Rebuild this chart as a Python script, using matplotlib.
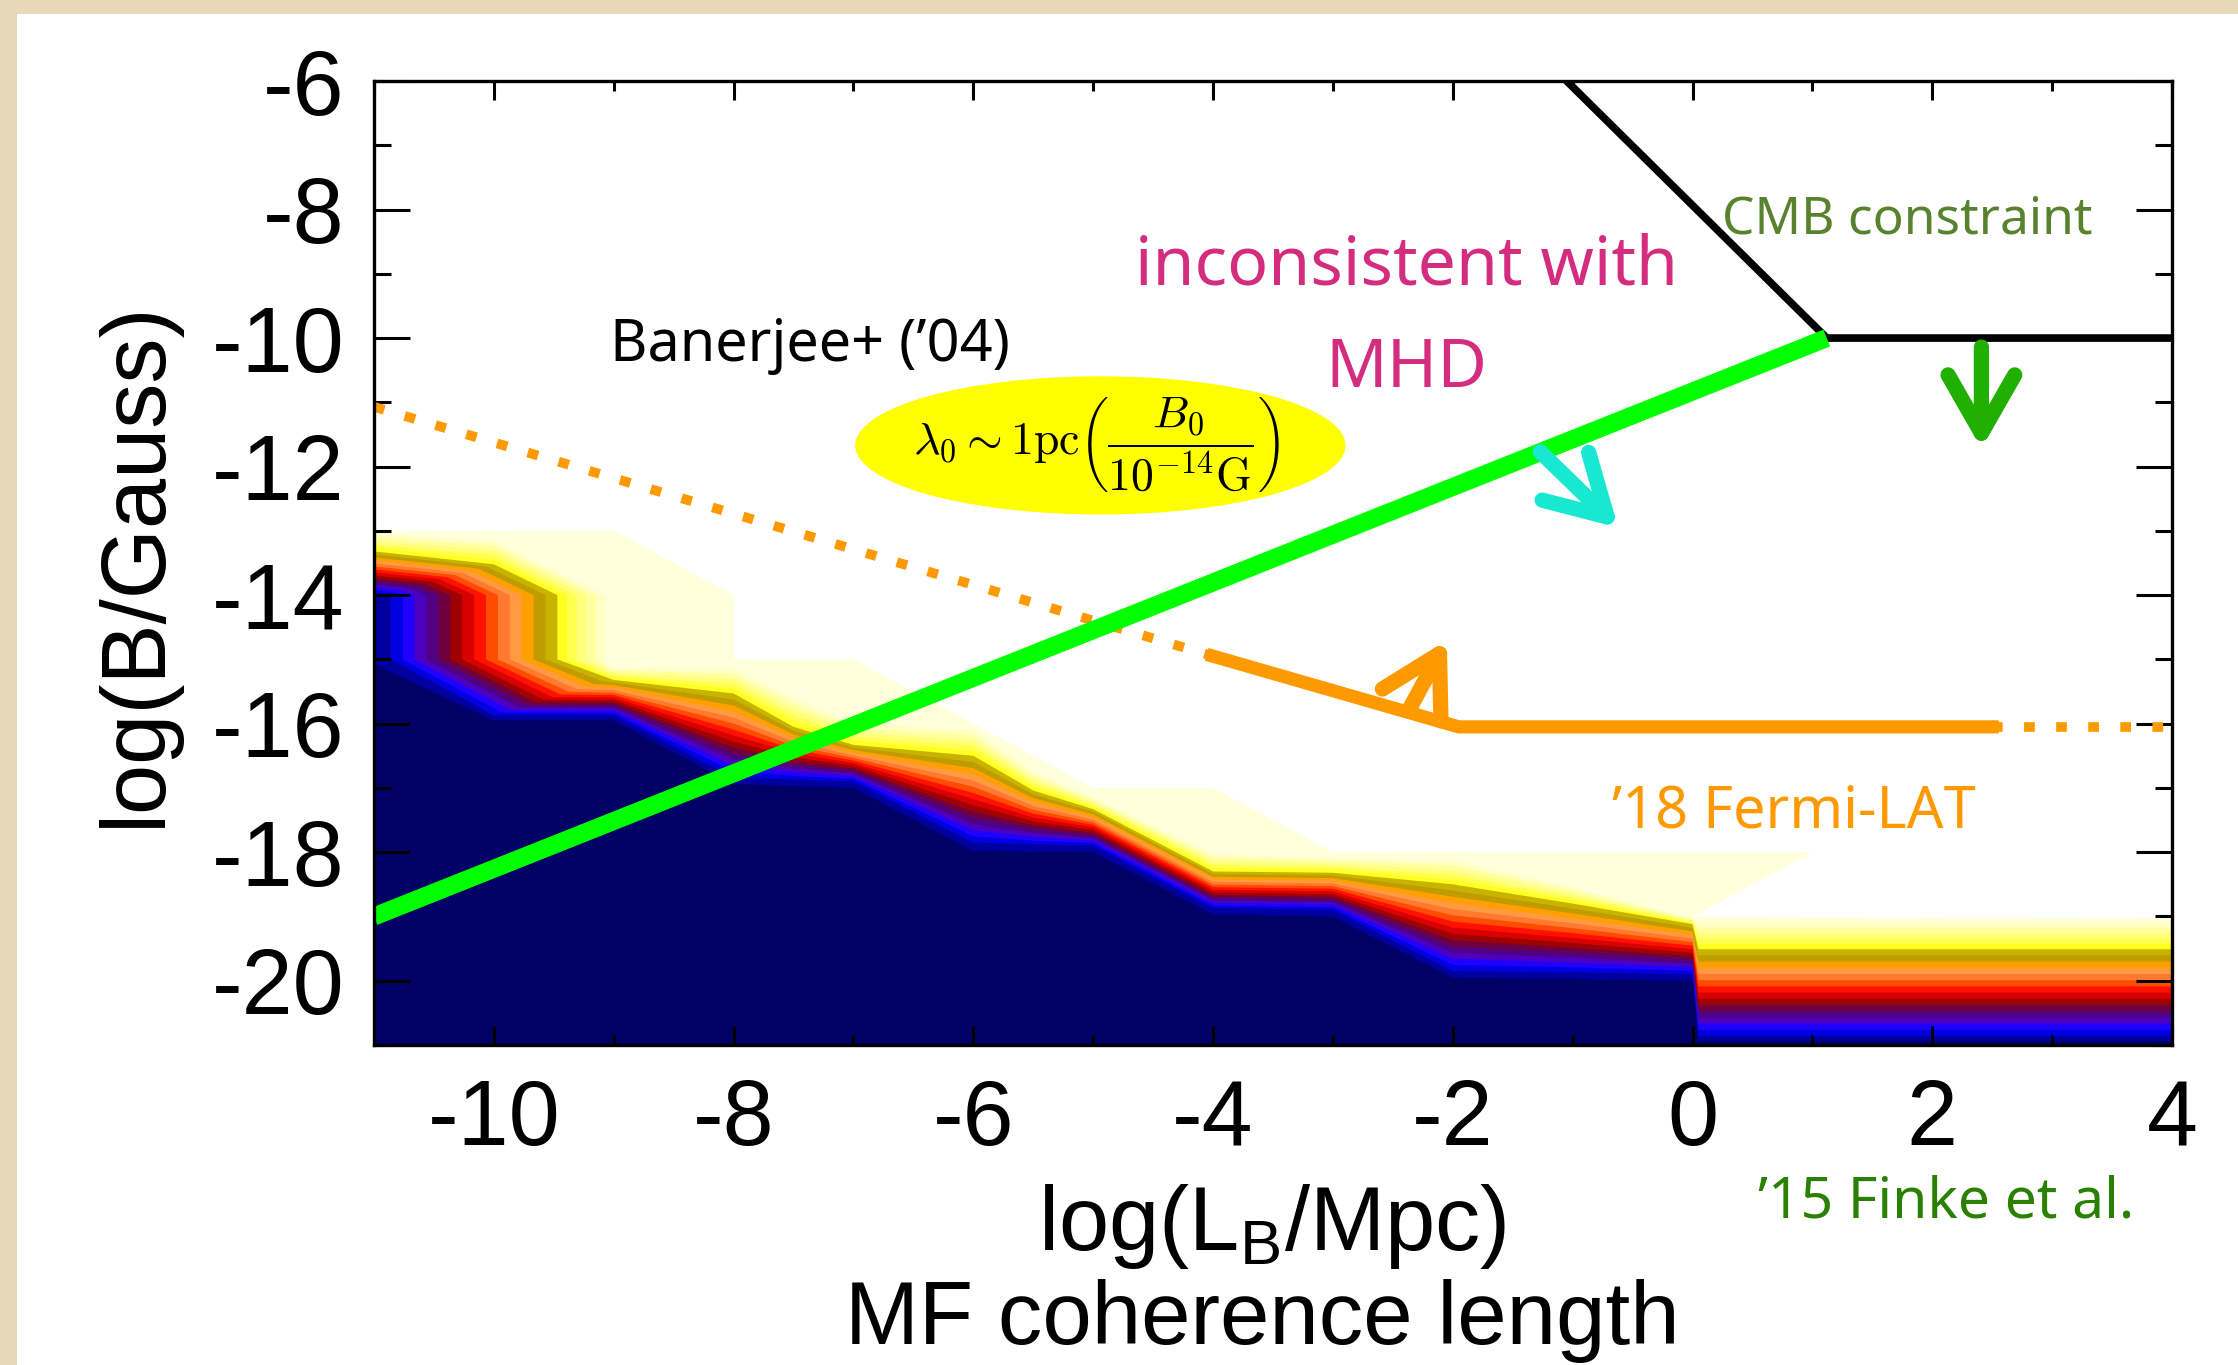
import numpy as np
import matplotlib
matplotlib.use('Agg')
import matplotlib.pyplot as plt
from matplotlib.patches import Ellipse, Rectangle, Polygon
from matplotlib.ticker import MultipleLocator

plt.rcParams['font.family'] = ['Liberation Sans', 'DejaVu Sans']
plt.rcParams['axes.unicode_minus'] = False
plt.rcParams['mathtext.fontset'] = 'custom'
plt.rcParams['mathtext.rm'] = 'Liberation Sans'
plt.rcParams['mathtext.it'] = 'Liberation Sans:italic'

# ---- values: x = log(L_B/Mpc), y = log(B/Gauss) ----
# faint yellow halo of the excluded region (upper edge)
halo_x = [-11, -9, -8, -8, -7, -5, -4, -3, 1, 0, 4]
halo_y = [-13, -13, -14, -15, -15, -17, -17, -18, -18, -19, -19.03]

# colour bands: outer edge (first light yellow), olive edge, inner edge (dark blue)
outer_x = [-11, -10, -9.07, -9.07, -9.03, -9.0, -8, -7.5, -7, -6, -5.5, -5, -4, -3, -2, -1, 0, 0.05, 4]
outer_y = [-13.05, -13.15, -14.0, -15.0, -15.12, -15.13, -15.15, -15.6, -16.0, -16.1, -16.75, -17.15,
           -18.03, -18.09, -18.13, -18.55, -19.03, -19.09, -19.09]
olive_x = [-11, -10, -9.47, -9.47, -9.03, -9.0, -8, -7.5, -7, -6, -5.5, -5, -4, -3, -2, -1, 0, 0.05, 4]
olive_y = [-13.32, -13.52, -14.0, -15.0, -15.3, -15.32, -15.53, -16.05, -16.33, -16.5, -17.04, -17.33,
           -18.3, -18.32, -18.5, -18.8, -19.12, -19.51, -19.51]
inner_x = [-11, -10.9, -10.86, -10.86, -10.0, -9.0, -8, -7.5, -7, -6, -5.5, -5, -4, -3, -2, -1, 0, 0.05, 4]
inner_y = [-13.97, -13.99, -14.0, -15.0, -15.87, -15.87, -16.84, -16.87, -16.9, -17.85, -17.88, -17.9,
           -18.87, -18.9, -19.85, -19.87, -19.9, -20.86, -20.86]
# solid core of the excluded region
core_x = [-11, -10, -9, -8, -7, -6, -5, -4, -3, -2, 0, 0.05, 4]
core_y = [-15.07, -15.95, -15.95, -16.94, -17.0, -17.98, -18.0, -18.97, -19.0, -19.95, -20.0, -20.94, -20.94]

band_colors = ['#ffffc4', '#ffffa0', '#ffff7c', '#ffff50', '#ffff22', '#c8b400', '#bf9c00',
               '#ffa000', '#ff9a40', '#ff7a30', '#ff4c00', '#ff1000', '#d80000', '#a00000',
               '#6e0040', '#500080', '#4c00c0', '#2000ff', '#0000e0', '#0000a0']

# constraint lines
cmb_x = [-1.05, 1.12, 4]
cmb_y = [-6, -10, -10]
mhd_x = [-11, 1.12]
mhd_y = [-19, -10]
fermi_x = [-4, -1.95, 2.5]
fermi_y = [-14.95, -16.05, -16.05]
fermi_ext_left_x = [-11, -4]
fermi_ext_left_y = [-11.07, -14.95]
fermi_ext_right_x = [2.5, 4]
fermi_ext_right_y = [-16.05, -16.05]

fig = plt.figure(figsize=(22.38, 13.65), dpi=100)
fig.patch.set_facecolor('#e6d8b8')
fig.add_artist(Rectangle((17 / 2238, 0), 1, 1 - 14 / 1365, transform=fig.transFigure,
                         facecolor='white', edgecolor='none', zorder=-5))
ax = fig.add_axes([374 / 2238, 1 - 1045 / 1365, 1798 / 2238, 964 / 1365])

ybot = -22


def under(xs, ys):
    xs = np.asarray(xs, float)
    ys = np.asarray(ys, float)
    return np.column_stack([np.r_[xs[0], xs, xs[-1]], np.r_[ybot, ys, ybot]])


ax.add_patch(Polygon(under(halo_x, halo_y), closed=True, facecolor='#ffffdc', edgecolor='none', zorder=0.8))

ox, oy = np.array(outer_x), np.array(outer_y)
mx, my = np.array(olive_x), np.array(olive_y)
ix, iy = np.array(inner_x), np.array(inner_y)
for k, c in enumerate(band_colors):
    if k <= 5:
        f = k / 5
        ex, ey = ox + f * (mx - ox), oy + f * (my - oy)
    else:
        f = (k - 5) / 14
        ex, ey = mx + f * (ix - mx), my + f * (iy - my)
    ax.add_patch(Polygon(under(ex, ey), closed=True, facecolor=c, edgecolor='none', zorder=1 + k * 0.001))

ax.add_patch(Polygon(under(core_x, core_y), closed=True, facecolor='#000066', edgecolor='none', zorder=1.1))

# lines
ax.plot(fermi_ext_left_x, fermi_ext_left_y, color='#ff9900', lw=7, ls=(0, (1.1, 2.2)), zorder=2)
ax.plot(fermi_ext_right_x, fermi_ext_right_y, color='#ff9900', lw=7, ls=(0, (1.1, 2.2)), zorder=2)
ax.plot(fermi_x, fermi_y, color='#ff9900', lw=9.5, solid_joinstyle='miter', zorder=2.1)
ax.plot(cmb_x, cmb_y, color='black', lw=5.5, zorder=2.2)
ax.plot(mhd_x, mhd_y, color='#00ff00', lw=13, solid_capstyle='butt', zorder=2.3)


def arrow(tail, head, color):
    ax.annotate('', xy=head, xytext=tail, xycoords='data', textcoords='data',
                arrowprops=dict(arrowstyle='->,head_length=2.1,head_width=1.2', lw=11,
                                color=color, mutation_scale=20, shrinkA=0, shrinkB=0),
                zorder=3)


arrow((-2.37, -15.80), (-2.05, -14.70), '#ff9900')
arrow((-1.27, -11.77), (-0.62, -12.95), '#18e8d2')
arrow((2.41, -10.14), (2.41, -11.72), '#22b000')

ax.add_patch(Ellipse((-4.94, -11.67), 4.09, 2.15, facecolor='#ffff00', edgecolor='none', zorder=3))
ax.text(-4.97, -11.67, r'$\lambda_0 \sim 1\mathrm{pc}\left(\dfrac{B_0}{10^{-14}\mathrm{G}}\right)$',
        fontsize=33, math_fontfamily='cm', ha='center', va='center', zorder=4)

sans = ['Noto Sans', 'DejaVu Sans']
ax.text(0.25, -8.37, 'CMB constraint', fontsize=37, color='#58822e', family=sans, ha='left', va='baseline')
ax.text(-2.39, -9.17, 'inconsistent with', fontsize=49, color='#d42d7f', family=sans, ha='center', va='baseline')
ax.text(-2.39, -10.76, 'MHD', fontsize=49, color='#d42d7f', family=sans, ha='center', va='baseline')
ax.text(-7.36, -10.35, 'Banerjee+ (\u201904)', fontsize=41.5, color='black', family=sans, ha='center', va='baseline')
ax.text(-0.67, -17.62, '\u201918 Fermi-LAT', fontsize=41.5, color='#ff9900', family=sans, ha='left', va='baseline')
ax.text(0.55, -23.69, '\u201915 Finke et al.', fontsize=41, color='#2a8000', family=sans, ha='left',
        va='baseline', clip_on=False)

ax.set_xlim(-11, 4)
ax.set_ylim(-21, -6)
ax.set_xticks(range(-10, 5, 2))
ax.set_yticks(range(-20, -5, 2))
ax.xaxis.set_minor_locator(MultipleLocator(1))
ax.yaxis.set_minor_locator(MultipleLocator(1))
ax.tick_params(axis='both', which='both', direction='in', top=True, right=True, width=2.2,
               labelsize=66, color='black')
ax.tick_params(axis='y', which='major', length=26, pad=21)
ax.tick_params(axis='y', which='minor', length=12.5)
ax.tick_params(axis='x', which='major', length=14, pad=24)
ax.tick_params(axis='x', which='minor', length=7.5)
for s in ax.spines.values():
    s.set_linewidth(2.4)
    s.set_zorder(5)

fig.text(136 / 2238, 1 - 564 / 1365, 'log(B/Gauss)', rotation=90, ha='center', va='center', fontsize=65)
fig.text(1272 / 2238, 1 - 1250 / 1365, r'log(L$_{\rm B}$/Mpc)', ha='center', va='baseline', fontsize=65)
fig.text(1262 / 2238, 1 - 1344 / 1365, 'MF coherence length', ha='center', va='baseline', fontsize=64)

fig.savefig('out.png', dpi=100, facecolor=fig.get_facecolor())
